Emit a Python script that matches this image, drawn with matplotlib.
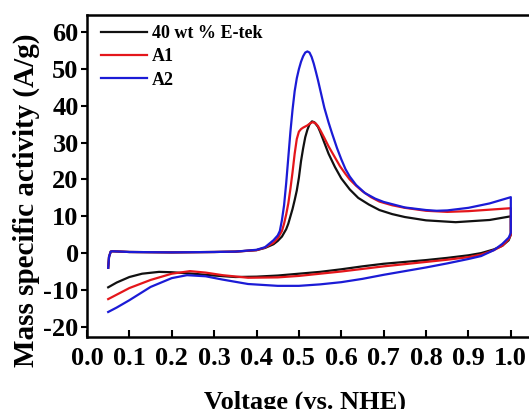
import matplotlib
matplotlib.use("Agg")
import matplotlib.pyplot as plt
from matplotlib.ticker import MultipleLocator

plt.rcParams['font.family'] = ['Liberation Serif', 'DejaVu Serif']
plt.rcParams['font.weight'] = 'bold'
plt.rcParams['axes.unicode_minus'] = False

labels = ["40 wt % E-tek", "A1", "A2"]
colors = ["#111111", "#e4161b", "#1b1bd6"]

# Anodic (forward) scans
etek_fwd_v = [0.05, 0.052, 0.056, 0.06, 0.08, 0.1, 0.2, 0.3, 0.35, 0.4, 0.42, 0.44, 0.45, 0.46, 0.47, 0.475,
              0.48, 0.485, 0.49, 0.495, 0.50, 0.505, 0.51, 0.515, 0.52, 0.525, 0.531, 0.537, 0.545, 0.55, 0.56,
              0.57, 0.585, 0.60, 0.62, 0.64, 0.665, 0.69, 0.72, 0.75, 0.80, 0.87, 0.95, 1.0]
etek_fwd_i = [-4.0, -1.0, 0.4, 0.5, 0.4, 0.3, 0.2, 0.3, 0.4, 0.8, 1.4, 2.4, 3.3, 4.5, 6.5, 8.0,
              10.0, 12.0, 14.4, 17.0, 20.5, 25.0, 28.5, 31.5, 33.5, 35.0, 35.8, 35.5, 34.3, 33.0, 30.0,
              27.0, 23.4, 20.3, 17.3, 15.0, 13.2, 11.7, 10.6, 9.8, 8.9, 8.4, 9.0, 10.0]

a1_fwd_v = [0.05, 0.052, 0.056, 0.06, 0.08, 0.1, 0.2, 0.3, 0.35, 0.4, 0.42, 0.44, 0.45, 0.46, 0.465, 0.47,
            0.475, 0.48, 0.485, 0.49, 0.495, 0.50, 0.505, 0.51, 0.52, 0.527, 0.533, 0.54, 0.545, 0.55, 0.56,
            0.57, 0.585, 0.597, 0.61, 0.62, 0.635, 0.65, 0.67, 0.69, 0.72, 0.75, 0.80, 0.85, 0.90, 0.95, 1.0]
a1_fwd_i = [-4.0, -1.0, 0.4, 0.5, 0.4, 0.3, 0.2, 0.3, 0.4, 0.8, 1.5, 2.8, 4.0, 6.0, 8.0, 10.5,
            13.5, 17.5, 22.0, 27.0, 31.0, 33.0, 33.7, 34.1, 34.7, 35.3, 35.6, 35.2, 34.5, 33.5, 31.3,
            29.0, 26.0, 23.6, 21.5, 20.0, 18.3, 16.8, 15.2, 14.0, 13.0, 12.3, 11.5, 11.2, 11.4, 11.8, 12.2]

a2_fwd_v = [0.05, 0.052, 0.056, 0.06, 0.08, 0.1, 0.2, 0.3, 0.35, 0.4, 0.42, 0.44, 0.45, 0.455, 0.46, 0.465,
            0.47, 0.475, 0.48, 0.485, 0.49, 0.495, 0.50, 0.505, 0.51, 0.515, 0.52, 0.525, 0.53, 0.535, 0.54,
            0.545, 0.55, 0.56, 0.57, 0.578, 0.59, 0.60, 0.61, 0.62, 0.635, 0.656, 0.68, 0.70, 0.75, 0.80,
            0.825, 0.85, 0.90, 0.95, 1.0]
a2_fwd_i = [-4.0, -1.0, 0.4, 0.5, 0.4, 0.3, 0.2, 0.3, 0.4, 0.9, 1.6, 3.5, 4.8, 6.0, 9.0, 13.0,
            19.0, 26.0, 33.0, 39.0, 44.0, 47.5, 50.0, 52.0, 53.5, 54.5, 54.8, 54.5, 53.3, 51.5, 49.3,
            47.0, 44.5, 39.5, 35.5, 32.6, 28.5, 25.5, 22.8, 20.8, 18.5, 16.3, 14.8, 13.9, 12.4, 11.7,
            11.5, 11.6, 12.3, 13.5, 15.2]

# Cathodic (reverse) scans
etek_rev_v = [1.0, 1.0, 0.995, 0.98, 0.96, 0.93, 0.90, 0.85, 0.80, 0.75, 0.70, 0.65, 0.60, 0.55, 0.50,
              0.45, 0.40, 0.35, 0.30, 0.25, 0.20, 0.17, 0.13, 0.10, 0.07, 0.05]
etek_rev_i = [10.0, 5.0, 3.5, 2.0, 1.0, 0.0, -0.6, -1.3, -1.9, -2.4, -2.9, -3.6, -4.4, -5.1, -5.6,
              -6.1, -6.4, -6.5, -6.1, -5.6, -5.2, -5.1, -5.6, -6.5, -8.0, -9.3]

a1_rev_v = [1.0, 1.0, 0.995, 0.98, 0.96, 0.93, 0.90, 0.85, 0.80, 0.75, 0.70, 0.65, 0.60, 0.55, 0.50,
            0.45, 0.38, 0.32, 0.28, 0.243, 0.20, 0.15, 0.10, 0.07, 0.05]
a1_rev_i = [12.2, 5.0, 3.8, 2.0, 0.8, -0.4, -1.1, -1.8, -2.4, -3.0, -3.6, -4.3, -5.0, -5.6, -6.2,
            -6.6, -6.7, -6.0, -5.3, -4.9, -5.6, -7.3, -9.5, -11.3, -12.5]

a2_rev_v = [1.0, 1.0, 0.995, 0.98, 0.96, 0.93, 0.90, 0.85, 0.80, 0.75, 0.70, 0.65, 0.60, 0.55, 0.50,
            0.45, 0.38, 0.32, 0.28, 0.236, 0.20, 0.15, 0.10, 0.07, 0.05]
a2_rev_i = [15.2, 5.5, 4.2, 2.5, 0.8, -0.8, -1.6, -2.8, -3.9, -4.9, -5.9, -7.0, -7.9, -8.5, -8.9,
            -8.9, -8.4, -7.2, -6.3, -6.0, -6.8, -9.2, -12.8, -14.8, -16.0]

fwd_v = [etek_fwd_v, a1_fwd_v, a2_fwd_v]
fwd_i = [etek_fwd_i, a1_fwd_i, a2_fwd_i]
rev_v = [etek_rev_v, a1_rev_v, a2_rev_v]
rev_i = [etek_rev_i, a1_rev_i, a2_rev_i]

fig = plt.figure(figsize=(5.29, 4.09), dpi=100)
ax = fig.add_axes([87 / 529, 1 - 337 / 409, 445 / 529, 322 / 409])

for k in range(3):
    v = list(fwd_v[k]) + list(rev_v[k])
    i = list(fwd_i[k]) + list(rev_i[k])
    ax.plot(v, i, color=colors[k], lw=1.6, label=labels[k], solid_joinstyle='round')

ax.set_xlim(0.0, 1.05)
ax.set_ylim(-22.8, 64.7)
ax.yaxis.set_major_locator(MultipleLocator(10))
ax.set_xticks([round(0.1 * k, 1) for k in range(11)])
ax.set_xticklabels([f"{0.1 * k:.1f}" for k in range(11)])
ax.tick_params(axis='x', direction='in', length=5, width=1.5, labelsize=19, pad=7)
ax.tick_params(axis='y', direction='out', length=4, width=1.5, labelsize=19, pad=2)
for lab in ax.get_xticklabels() + ax.get_yticklabels():
    lab.set_fontweight('bold')
for s in ax.spines.values():
    s.set_linewidth(1.8)

ax.set_xlabel("Voltage (vs. NHE)", fontsize=19, fontweight='bold')
ax.xaxis.set_label_coords((305 - 87) / 445, -0.165)
ax.set_ylabel("Mass specific activity (A/g)", fontsize=21, fontweight='bold')
ax.yaxis.set_label_coords((40 - 87) / 445, 0.425)

leg = ax.legend(loc='upper left', frameon=False, fontsize=13, handlelength=2.5,
                handletextpad=0.3, labelspacing=0.35, borderaxespad=0.15,
                bbox_to_anchor=(0.01, 1.0))
for t in leg.get_texts():
    t.set_fontweight('bold')

fig.savefig("out.png", dpi=100)
